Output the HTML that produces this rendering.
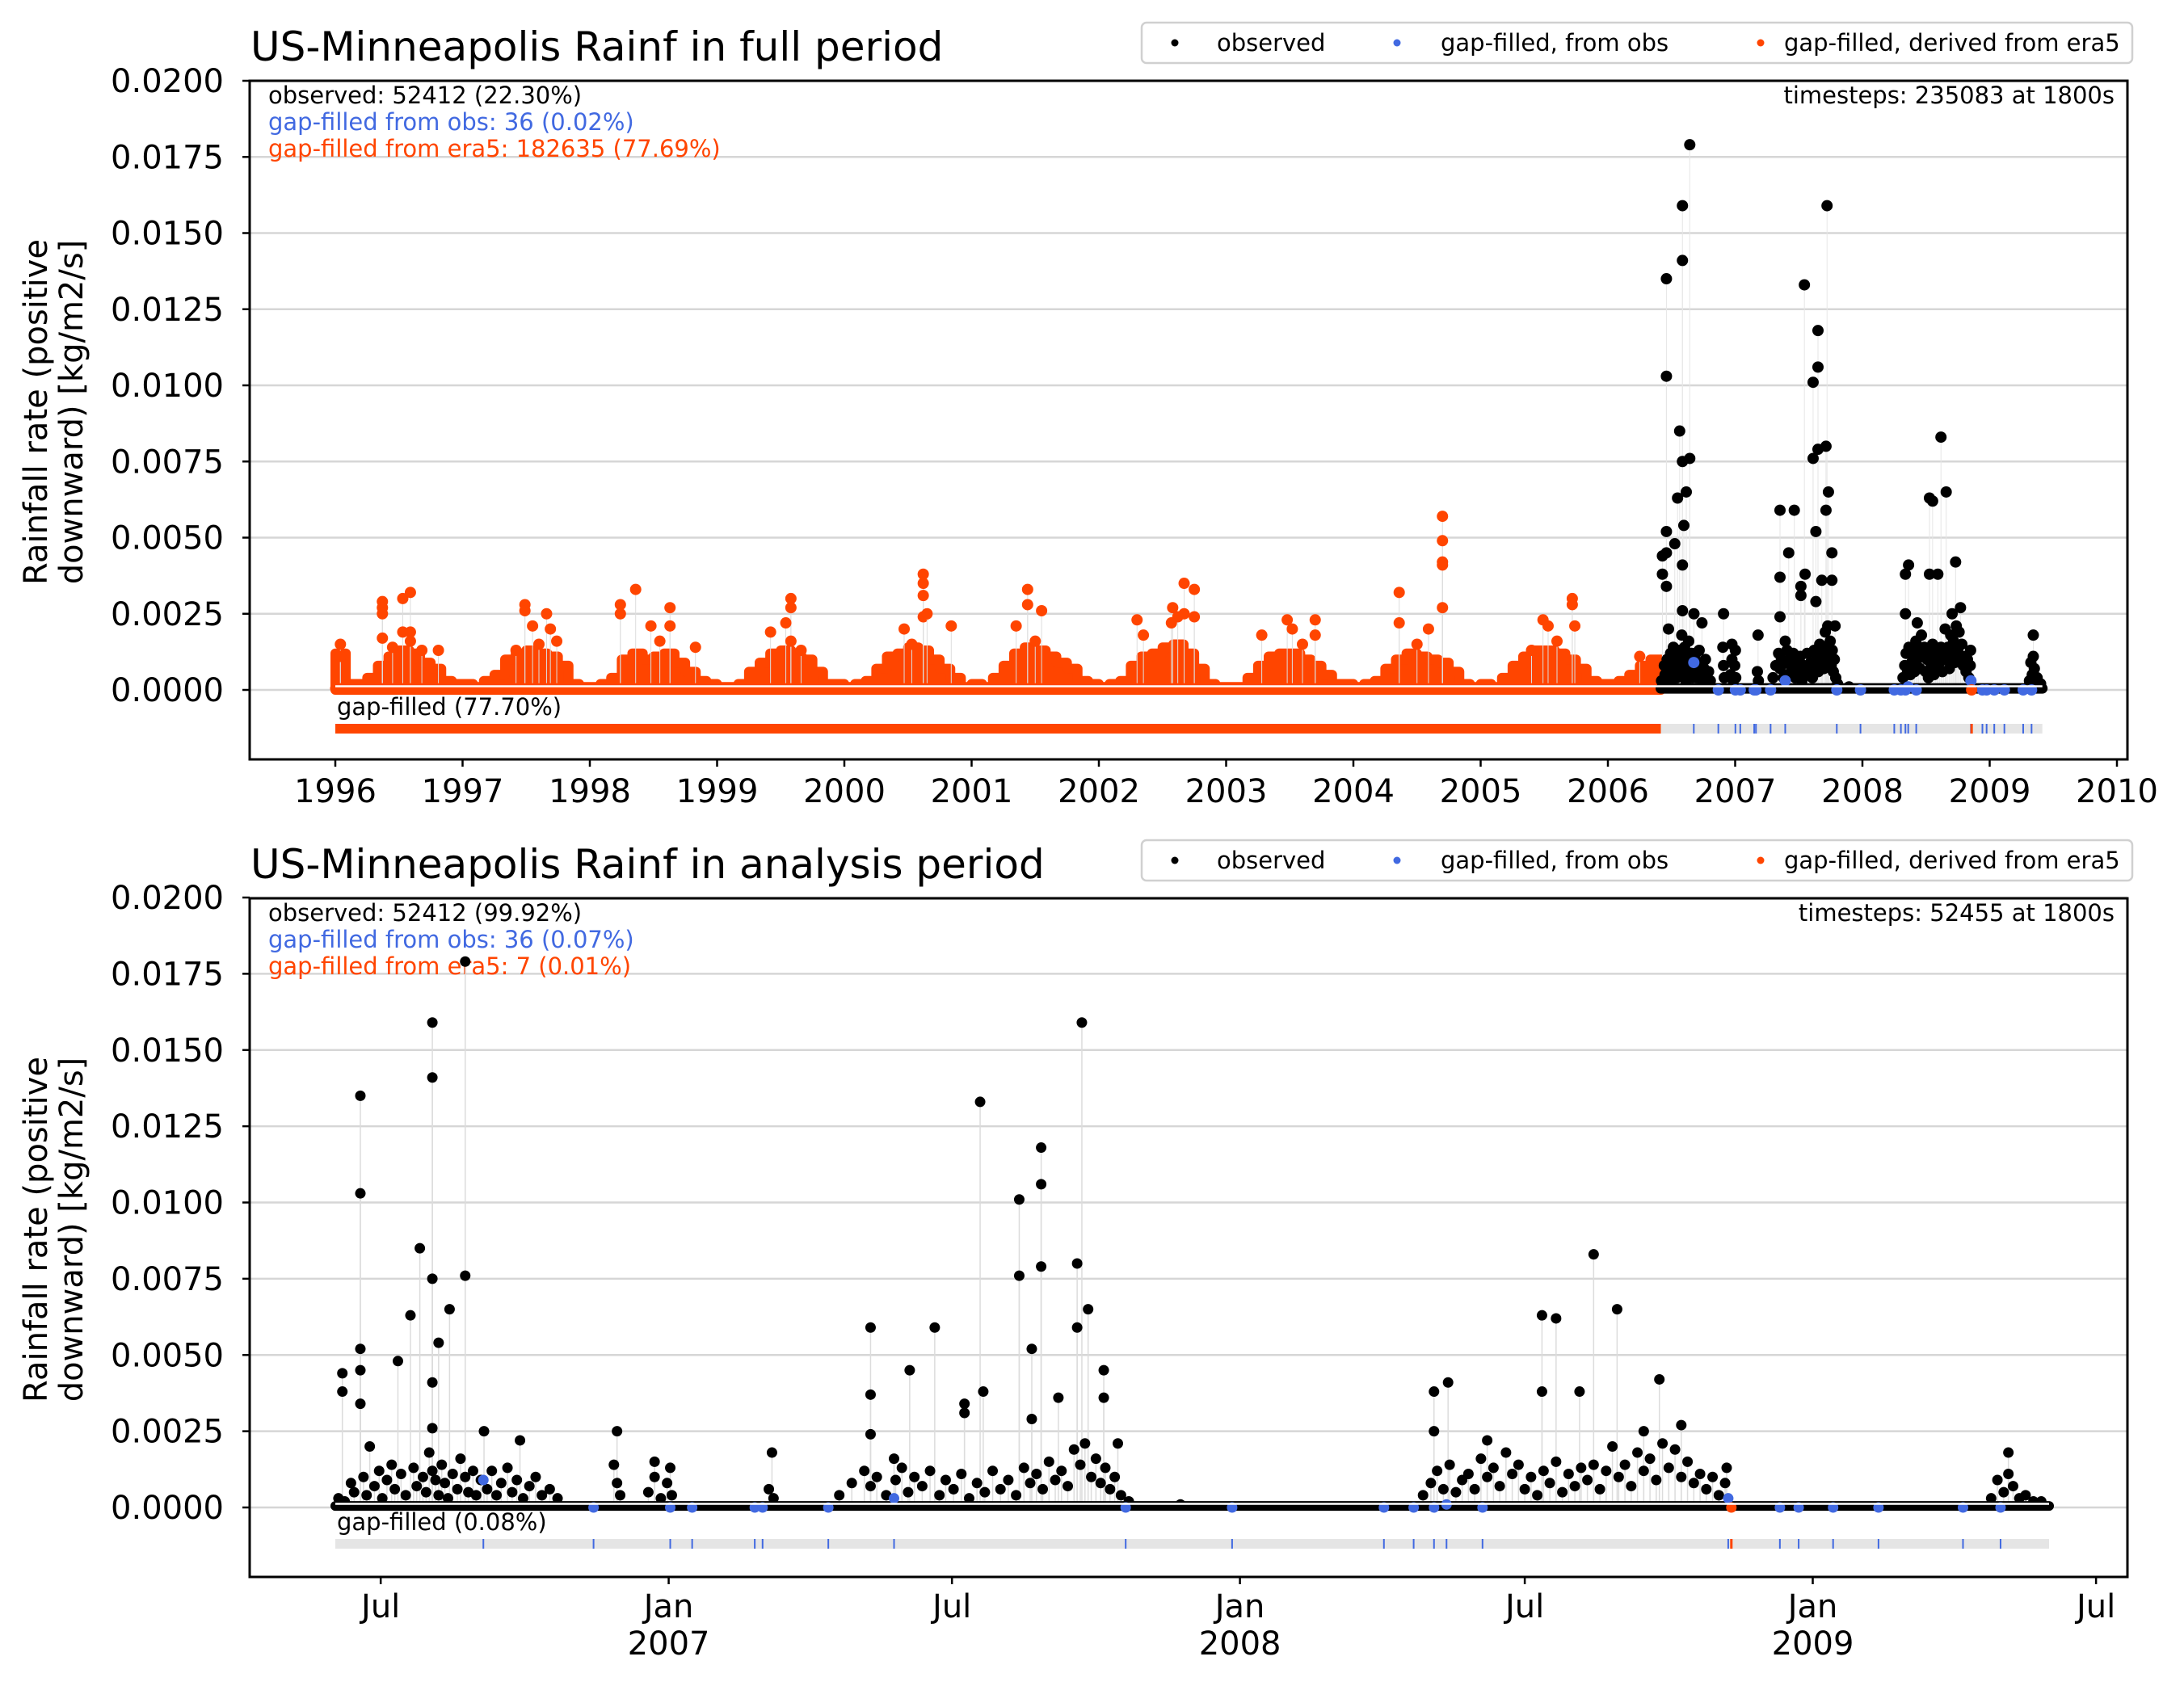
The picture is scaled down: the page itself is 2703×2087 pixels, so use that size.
<!DOCTYPE html>
<html><head><meta charset="utf-8"><style>
html,body{margin:0;padding:0;background:#fff}
svg{display:block}
text{font-family:"DejaVu Sans","Liberation Sans",sans-serif}
</style></head><body>
<svg id="chart" width="2703" height="2087" viewBox="0 0 2703 2087" xmlns="http://www.w3.org/2000/svg"></svg>
<script>
// ---------- data ----------
const yTicks = [0.0000,0.0025,0.0050,0.0075,0.0100,0.0125,0.0150,0.0175,0.0200];
const yTickLabels = ["0.0000","0.0025","0.0050","0.0075","0.0100","0.0125","0.0150","0.0175","0.0200"];
const yearTicks = [1996,1997,1998,1999,2000,2001,2002,2003,2004,2005,2006,2007,2008,2009,2010];
const monthTickDays = [29,213,394,578,760,944,1125];
const monthTickLabels = ["Jul","Jan","Jul","Jan","Jul","Jan","Jul"];
const monthTickYears = ["","2007","","2008","","2009",""];
// observed: [day offset from 2006-06-02, value]
const observedDays = [4.5,4.5,16,16,16,16,16,22,40,48,54,62,62,62,62,62,66,73,83,83,95,118,180,204,214,279,342,342,342,357,367,383,402,402,412,414,437,437,445,445,451,451,451,462,474,474,477,481,491,491,500,702,702,711,736,771,771,780,795,804,819,836,846,860,889,1069,1069,
2,6,10,12,18,20,25,28,30,33,36,38,42,45,50,52,56,58,60,62,64,66,68,70,72,75,78,80,83,85,88,90,93,97,100,103,106,110,113,116,120,124,128,132,137,142,
178,180,182,200,204,208,212,215,277,280,
322,330,338,342,346,352,358,362,366,370,375,380,386,390,395,400,405,410,415,420,425,430,435,440,444,448,452,456,460,464,468,472,476,479,483,486,489,492,495,498,502,507,540,
695,700,704,708,712,716,720,724,728,732,736,740,744,748,752,756,760,764,768,772,776,780,784,788,792,796,800,804,808,812,816,820,824,828,832,836,840,844,848,852,856,860,864,868,872,876,880,884,888,
1058,1062,1066,1072,1076,1080,1085,1090];
const observedValues = [.0044,.0038,.0135,.0103,.0052,.0045,.0034,.0020,.0048,.0063,.0085,.0159,.0141,.0075,.0041,.0026,.0054,.0065,.0179,.0076,.0025,.0022,.0025,.0015,.0013,.0018,.0059,.0037,.0024,.0016,.0045,.0059,.0034,.0031,.0133,.0038,.0101,.0076,.0052,.0029,.0118,.0106,.0079,.0036,.0080,.0059,.0159,.0065,.0045,.0036,.0021,.0038,.0025,.0041,.0022,.0063,.0038,.0062,.0038,.0083,.0065,.0025,.0042,.0027,.0013,.0018,.0011,
.0003,.0002,.0008,.0005,.0010,.0004,.0007,.0012,.0003,.0009,.0014,.0006,.0011,.0004,.0013,.0007,.0010,.0005,.0018,.0012,.0009,.0004,.0014,.0008,.0003,.0011,.0006,.0016,.0010,.0005,.0012,.0004,.0009,.0006,.0012,.0004,.0008,.0013,.0005,.0009,.0003,.0007,.0010,.0004,.0006,.0003,
.0014,.0008,.0004,.0005,.0010,.0003,.0008,.0004,.0006,.0003,
.0004,.0008,.0012,.0007,.0010,.0004,.0009,.0013,.0005,.0010,.0007,.0012,.0004,.0009,.0006,.0011,.0003,.0008,.0005,.0012,.0006,.0009,.0004,.0013,.0008,.0011,.0006,.0015,.0009,.0012,.0007,.0019,.0014,.0021,.0010,.0016,.0008,.0013,.0006,.0010,.0004,.0002,.0001,
.0004,.0008,.0012,.0006,.0014,.0005,.0009,.0011,.0006,.0016,.0010,.0013,.0007,.0018,.0011,.0014,.0006,.0010,.0004,.0012,.0008,.0015,.0005,.0011,.0007,.0013,.0009,.0014,.0006,.0012,.0020,.0010,.0014,.0007,.0018,.0012,.0016,.0009,.0021,.0013,.0019,.0010,.0015,.0008,.0011,.0006,.0010,.0004,.0008,
.0003,.0009,.0005,.0007,.0003,.0004,.0002,.0002];
// gap-filled from obs
const gapObsDays = [94.6,165,214,228,268,273,315,357,505,573,670,689,702,710,733,890,923,935,957,986,1040,1064];
const gapObsValues = [.0009,0,0,0,0,0,0,.0003,0,0,0,0,0,.0001,0,.0003,0,0,0,0,0,0];
const gapEraDays = [892];
const gapEraValues = [0];
// era5 fill in full period: monthly bulk level from Jan 1996
const eraMonthly = [
.0012,.0002,.0002,.0004,.0008,.0011,.0013,.0012,.0009,.0007,.0003,.0002,
.0002,.0001,.0003,.0005,.0010,.0012,.0013,.0012,.0011,.0008,.0002,.0001,
.0001,.0002,.0004,.0010,.0012,.0010,.0011,.0012,.0009,.0006,.0003,.0002,
.0001,.0001,.0002,.0006,.0009,.0012,.0013,.0011,.0010,.0006,.0002,.0002,
.0001,.0002,.0003,.0007,.0011,.0012,.0014,.0013,.0010,.0007,.0004,.0001,
.0002,.0001,.0004,.0008,.0012,.0014,.0013,.0011,.0009,.0007,.0003,.0002,
.0001,.0002,.0003,.0008,.0011,.0012,.0014,.0015,.0012,.0007,.0002,.0001,
.0001,.0001,.0004,.0008,.0011,.0012,.0012,.0010,.0008,.0005,.0002,.0002,
.0001,.0002,.0003,.0007,.0010,.0012,.0011,.0010,.0009,.0006,.0002,.0001,
.0002,.0001,.0004,.0008,.0011,.0013,.0013,.0012,.0010,.0007,.0003,.0002,
.0002,.0003,.0005,.0008,.0010];
const eraPeakYears = [1996.04,1996.04,1996.37,1996.37,1996.37,1996.37,1996.53,1996.53,1996.59,1996.59,1996.59,1996.81,1996.45,1996.68,
1997.49,1997.49,1997.55,1997.66,1997.69,1997.74,1997.42,1997.6,
1998.36,1998.24,1998.24,1998.48,1998.63,1998.63,1998.83,1998.55,
1999.58,1999.58,1999.54,1999.42,1999.58,1999.66,
2000.62,2000.62,2000.62,2000.62,2000.65,2000.47,2000.84,2000.53,
2001.44,2001.44,2001.55,2001.35,2001.5,
2002.30,2002.35,2002.58,2002.67,2002.75,2002.67,2002.75,2002.62,2002.57,
2003.28,2003.48,2003.52,2003.70,2003.70,2003.6,
2004.36,2004.36,2004.59,2004.70,2004.70,2004.70,2004.70,2004.70,2004.5,
2005.49,2005.72,2005.72,2005.74,2005.53,2005.40,2005.6,2006.25];
const eraPeakValues = [.0015,.0011,.0029,.0027,.0025,.0017,.0030,.0019,.0032,.0019,.0016,.0013,.0014,.0013,
.0028,.0026,.0021,.0025,.0020,.0016,.0013,.0015,
.0033,.0028,.0025,.0021,.0027,.0021,.0014,.0016,
.0030,.0027,.0022,.0019,.0016,.0013,
.0038,.0035,.0031,.0024,.0025,.0020,.0021,.0015,
.0033,.0028,.0026,.0021,.0016,
.0023,.0018,.0027,.0035,.0033,.0025,.0024,.0024,.0022,
.0018,.0023,.0020,.0023,.0018,.0015,
.0032,.0022,.0020,.0057,.0049,.0042,.0041,.0027,.0015,
.0023,.0030,.0028,.0021,.0021,.0013,.0016,.0011];
const startYear = 1996.0, obsStartYear = 2006.416, endDay = 1095;

// ---------- helpers ----------
const NS = "http://www.w3.org/2000/svg";
const svg = document.getElementById("chart");
function mk(tag, attrs, parent){ const e=document.createElementNS(NS,tag); for(const k in attrs) e.setAttribute(k,attrs[k]); (parent||svg).appendChild(e); return e; }
const ORANGE="#ff4500", BLUE="#4169e1";
const L=309, R=2633;
const SMALL=29;
const panels = [{top:100,bottom:940,zero:854,scale:37700},{top:1112,bottom:1952,zero:1866,scale:37750}];
const xTop = y => 415 + (y - startYear)*157.5;
const xBot = d => 415 + d*1.937;
const dayToYear = d => obsStartYear + d/365.25;

function drawFrame(p, idx, title, ann, tsText){
  const g = mk("g",{});
  
  
  yTicks.forEach((t,i)=>{
    const y = p.zero - t*p.scale;
    const gl = mk("line",{x1:L,x2:R,y1:y,y2:y,stroke:"#d6d6d6","stroke-width":2.5},g);
    
    
    mk("line",{x1:L-9,x2:L,y1:y,y2:y,stroke:"#000","stroke-width":2.5},g);
    const tl = mk("text",{x:277,y:y+14,"font-size":40,"text-anchor":"end"},g);
    tl.textContent = yTickLabels[i];
    
    
  });
  const tt = mk("text",{x:310,y:p.top-25,"font-size":50},g);
  tt.textContent = title;
  
  
  const cy = (p.top+p.bottom)/2 - 10;
  const yl = mk("text",{transform:`translate(58,${cy}) rotate(-90)`,"font-size":40,"text-anchor":"middle"},g);
  
  
  const t1 = mk("tspan",{x:0,y:0},yl); t1.textContent="Rainfall rate (positive";
  const t2 = mk("tspan",{x:0,y:44},yl); t2.textContent="downward) [kg/m2/s]";
  const cols=["#000",BLUE,ORANGE];
  ann.forEach((a,i)=>{
    const at = mk("text",{x:332,y:p.top+28+i*33,"font-size":SMALL,fill:cols[i]},g);
    at.textContent=a;
    
    
  });
  const ts = mk("text",{x:2617,y:p.top+28,"font-size":SMALL,"text-anchor":"end"},g);
  ts.textContent=tsText;
  
  
  return g;
}
function drawLegend(y){
  const g = mk("g",{});
  
  
  mk("rect",{x:1413,y:y,width:1226,height:50,rx:6,fill:"#fff",stroke:"#d0d0d0","stroke-width":2.5},g);
  const items=[["observed","#000",1454,1506],["gap-filled, from obs",BLUE,1729,1783],["gap-filled, derived from era5",ORANGE,2179,2208]];
  items.forEach(it=>{
    const c = mk("circle",{cx:it[2],cy:y+25,r:4.5,fill:it[1]},g);
    
    
    const t = mk("text",{x:it[3],y:y+35,"font-size":SMALL},g);
    t.textContent=it[0];
    
    
  });
}
function dot(g,x,y,col,r,name){
  const c = mk("circle",{cx:x,cy:y,r:r,fill:col},g);
  
  
}

// ---------- panel 1 ----------
const p1 = panels[0];
const g1 = drawFrame(p1,0,"US-Minneapolis Rainf in full period",
  ["observed: 52412 (22.30%)","gap-filled from obs: 36 (0.02%)","gap-filled from era5: 182635 (77.69%)"],"timesteps: 235083 at 1800s");
const y1 = v => p1.zero - v*p1.scale;
let d = `M${xTop(startYear)},${y1(0)}`;
eraMonthly.forEach((v,i)=>{ const a=xTop(startYear+i/12), b=xTop(startYear+(i+1)/12); d+=` L${a},${y1(v)} L${b},${y1(v)}`; });
d += ` L${xTop(startYear+eraMonthly.length/12)},${y1(0)} Z`;
const bulk = mk("path",{d:d,fill:ORANGE,stroke:ORANGE,"stroke-width":12,"stroke-linejoin":"round"},g1);


eraPeakYears.forEach((yr,i)=>{
  mk("line",{x1:xTop(yr),x2:xTop(yr),y1:y1(0),y2:y1(eraPeakValues[i]),stroke:"#ddd","stroke-width":1},g1);
  dot(g1,xTop(yr),y1(eraPeakValues[i]),ORANGE,7,'era5-point');
});
observedDays.forEach((dd,i)=>{
  mk("line",{x1:xTop(dayToYear(dd)),x2:xTop(dayToYear(dd)),y1:y1(0),y2:y1(observedValues[i]),stroke:"#e6e6e6","stroke-width":1},g1);
});
mk("line",{x1:xTop(startYear),x2:xTop(obsStartYear),y1:y1(0.00005),y2:y1(0.00005),stroke:ORANGE,"stroke-width":13,"stroke-linecap":"round"},g1);
mk("line",{x1:xTop(obsStartYear),x2:xTop(dayToYear(endDay)),y1:y1(0.00005),y2:y1(0.00005),stroke:"#000","stroke-width":13,"stroke-linecap":"round"},g1);
observedDays.forEach((dd,i)=> dot(g1,xTop(dayToYear(dd)),y1(observedValues[i]),"#000",7,'observed-point'));
gapObsDays.forEach((dd,i)=> dot(g1,xTop(dayToYear(dd)),y1(gapObsValues[i]),BLUE,7,'gapfill-obs-point'));
gapEraDays.forEach((dd,i)=> dot(g1,xTop(dayToYear(dd)),y1(gapEraValues[i]),ORANGE,7,'gapfill-era5-point'));
mk("line",{x1:xTop(startYear),x2:xTop(dayToYear(endDay)),y1:y1(0.00012),y2:y1(0.00012),stroke:"#fff","stroke-width":2.5},g1);
const gb1 = mk("rect",{x:415,y:896,width:xTop(dayToYear(endDay))-415,height:12,fill:"#e5e5e5"},g1);


mk("rect",{x:415,y:896,width:xTop(obsStartYear)-415,height:12,fill:ORANGE},g1);
gapObsDays.forEach(dd=> mk("line",{x1:xTop(dayToYear(dd)),x2:xTop(dayToYear(dd)),y1:896,y2:908,stroke:BLUE,"stroke-width":2},g1));
gapEraDays.forEach(dd=> mk("line",{x1:xTop(dayToYear(dd)),x2:xTop(dayToYear(dd)),y1:896,y2:908,stroke:ORANGE,"stroke-width":3},g1));
const gl1 = mk("text",{x:417,y:885,"font-size":SMALL},g1); gl1.textContent="gap-filled (77.70%)";


yearTicks.forEach(yr=>{
  const x=xTop(yr);
  mk("line",{x1:x,x2:x,y1:p1.bottom,y2:p1.bottom+9,stroke:"#000","stroke-width":2.5},g1);
  const t=mk("text",{x:x,y:p1.bottom+53,"font-size":40,"text-anchor":"middle"},g1); t.textContent=String(yr);
  
  
});
mk("rect",{x:L,y:p1.top,width:R-L,height:p1.bottom-p1.top,fill:"none",stroke:"#000","stroke-width":3},g1);
drawLegend(28);

// ---------- panel 2 ----------
const p2 = panels[1];
const g2 = drawFrame(p2,1,"US-Minneapolis Rainf in analysis period",
  ["observed: 52412 (99.92%)","gap-filled from obs: 36 (0.07%)","gap-filled from era5: 7 (0.01%)"],"timesteps: 52455 at 1800s");
const y2 = v => p2.zero - v*p2.scale;
observedDays.forEach((dd,i)=>{
  mk("line",{x1:xBot(dd),x2:xBot(dd),y1:y2(0),y2:y2(observedValues[i]),stroke:"#dcdcdc","stroke-width":1.5},g2);
});
mk("line",{x1:xBot(0),x2:xBot(endDay),y1:y2(0.00005),y2:y2(0.00005),stroke:"#000","stroke-width":12,"stroke-linecap":"round"},g2);
observedDays.forEach((dd,i)=> dot(g2,xBot(dd),y2(observedValues[i]),"#000",6.5,'observed-point'));
gapObsDays.forEach((dd,i)=> dot(g2,xBot(dd),y2(gapObsValues[i]),BLUE,6.5,'gapfill-obs-point'));
gapEraDays.forEach((dd,i)=> dot(g2,xBot(dd),y2(gapEraValues[i]),ORANGE,6.5,'gapfill-era5-point'));
mk("line",{x1:xBot(0),x2:xBot(endDay),y1:y2(0.00012),y2:y2(0.00012),stroke:"#fff","stroke-width":2.5},g2);
const gb2 = mk("rect",{x:415,y:1905,width:xBot(endDay)-415,height:12,fill:"#e5e5e5"},g2);


gapObsDays.forEach(dd=> mk("line",{x1:xBot(dd),x2:xBot(dd),y1:1905,y2:1917,stroke:BLUE,"stroke-width":2},g2));
gapEraDays.forEach(dd=> mk("line",{x1:xBot(dd),x2:xBot(dd),y1:1905,y2:1917,stroke:ORANGE,"stroke-width":3},g2));
const gl2 = mk("text",{x:417,y:1894,"font-size":SMALL},g2); gl2.textContent="gap-filled (0.08%)";


monthTickDays.forEach((dd,i)=>{
  const x=xBot(dd);
  mk("line",{x1:x,x2:x,y1:p2.bottom,y2:p2.bottom+9,stroke:"#000","stroke-width":2.5},g2);
  const t=mk("text",{x:x,y:p2.bottom+50,"font-size":40,"text-anchor":"middle"},g2); t.textContent=monthTickLabels[i];
  
  
  if(monthTickYears[i]){
    const t2=mk("text",{x:x,y:p2.bottom+96,"font-size":40,"text-anchor":"middle"},g2); t2.textContent=monthTickYears[i];
    
    
  }
});
mk("rect",{x:L,y:p2.top,width:R-L,height:p2.bottom-p2.top,fill:"none",stroke:"#000","stroke-width":3},g2);
drawLegend(1040);
</script>
</body></html>
